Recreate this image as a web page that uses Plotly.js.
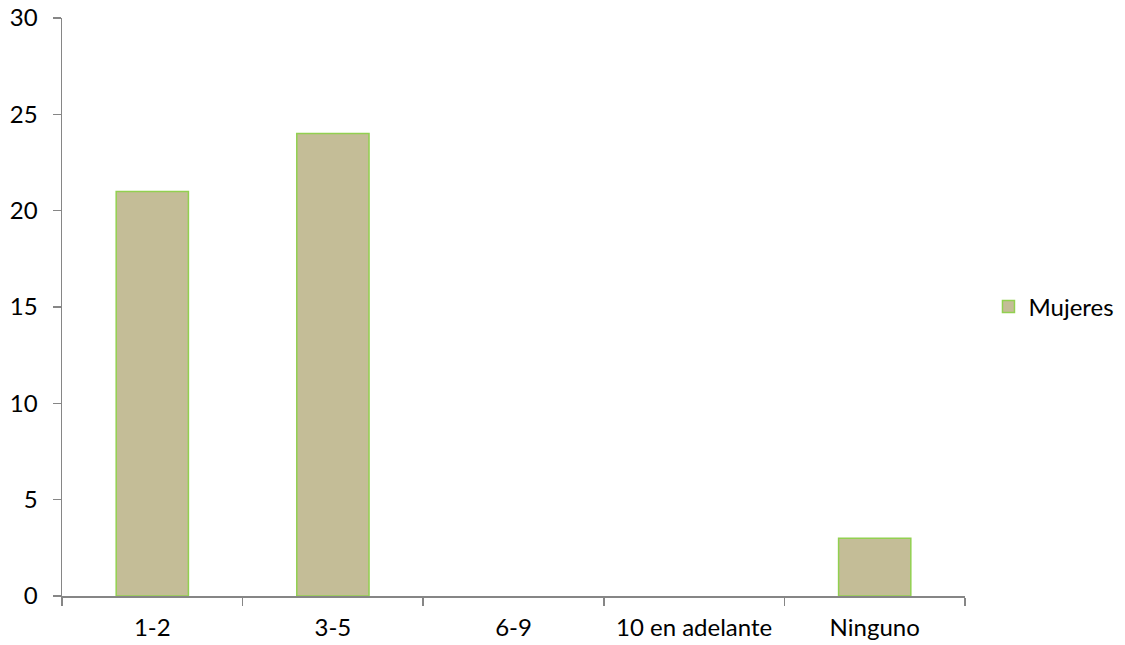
<!DOCTYPE html>
<html>
<head>
<meta charset="utf-8">
<script src="https://cdn.plot.ly/plotly-3.0.1.min.js"></script>
<style>html,body{margin:0;padding:0;background:#fff}#chart{width:1125px;height:645px}</style>
</head>
<body>
<div id="chart"></div>
<script>
const categories = ["1-2", "3-5", "6-9", "10 en adelante", "Ninguno"];
const mujeres = [21, 24, 0, 0, 3];
const seriesName = "Mujeres";
const yTicks = [0, 5, 10, 15, 20, 25, 30];

const font = {family: "Lato, 'Open Sans', sans-serif", size: 24, color: "#000"};

Plotly.newPlot("chart", [{
  type: "bar",
  x: categories,
  y: mujeres,
  name: seriesName,
  marker: {color: "#C4BD97", line: {color: "#92D050", width: mujeres.map(v => v > 0 ? 1.5 : 0)}},
  showlegend: true
}], {
  width: 1125, height: 645,
  margin: {l: 62, r: 160, t: 18, b: 49, pad: 0, autoexpand: false},
  paper_bgcolor: "#fff", plot_bgcolor: "#fff",
  font: font,
  bargap: 0.6,
  xaxis: {
    type: "category",
    showline: true, linecolor: "#868686", linewidth: 1.5,
    ticks: "outside", tickson: "boundaries", ticklen: 8, tickcolor: "#868686", tickwidth: 1.5,
    showgrid: false, zeroline: false,
    tickfont: font, ticklabelstandoff: 10
  },
  yaxis: {
    range: [0, 30], tickvals: yTicks, ticktext: yTicks.map(String),
    showline: true, linecolor: "#868686", linewidth: 1.5,
    ticks: "outside", ticklen: 8, tickcolor: "#868686", tickwidth: 1.5,
    showgrid: false, zeroline: false,
    tickfont: font, ticklabelstandoff: 10
  },
  legend: {x: 1.026, xanchor: "left", y: 0.5, yanchor: "middle", font: font, itemwidth: 30},
  showlegend: true
}, {displayModeBar: false, staticPlot: true});
</script>
</body>
</html>
